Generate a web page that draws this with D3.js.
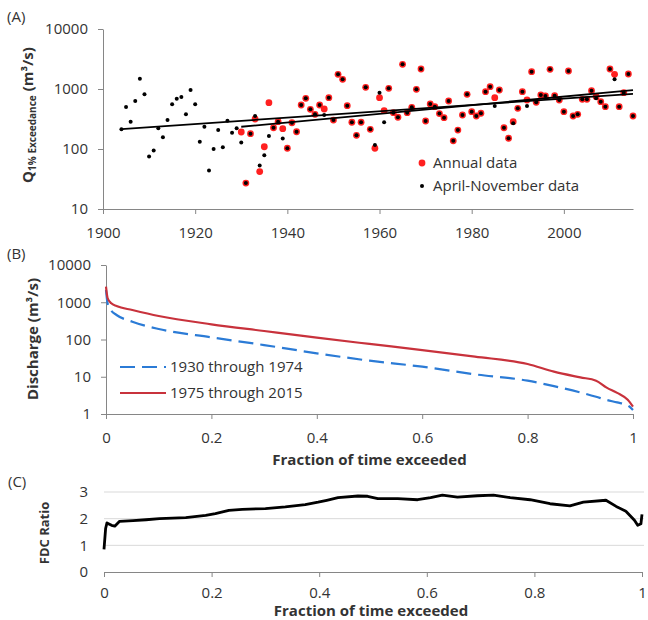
<!DOCTYPE html>
<html>
<head>
<meta charset="utf-8">
<script src="https://cdn.jsdelivr.net/npm/d3@7"></script>
<style>
  body { margin: 0; background: #fff; }
  svg text { font-family: "Open Sans", sans-serif; fill: #333; }
</style>
</head>
<body>
<svg id="chart" width="648" height="620"></svg>
<script>
// ---- panel A: Q1% exceedance by year ----
// [year, m3/s]
const aprNovData = [
  [1904, 213], [1905, 501], [1906, 285], [1907, 631], [1908, 1486], [1909, 816],
  [1910, 75], [1911, 94], [1912, 221], [1913, 157], [1914, 304], [1915, 556],
  [1916, 689], [1917, 735], [1918, 379], [1919, 962], [1920, 556], [1921, 132],
  [1922, 235], [1923, 44], [1924, 100], [1925, 207], [1926, 107], [1927, 296],
  [1928, 187], [1929, 221], [1930, 128], [1931, 27], [1932, 180], [1933, 355],
  [1934, 53], [1935, 79], [1936, 165], [1937, 226], [1938, 285], [1939, 150],
  [1940, 103], [1941, 274], [1942, 194], [1943, 541], [1944, 700], [1945, 459],
  [1946, 379], [1947, 541], [1948, 369], [1949, 716], [1950, 304], [1951, 1758],
  [1952, 1452], [1953, 527], [1954, 279], [1955, 169], [1956, 279], [1957, 1067],
  [1958, 213], [1959, 117], [1960, 868], [1961, 279], [1962, 1028], [1963, 403],
  [1964, 338], [1965, 2582], [1966, 403], [1967, 495], [1968, 989], [1969, 2154],
  [1970, 293], [1971, 562], [1972, 507], [1973, 390], [1974, 333], [1975, 631],
  [1976, 137], [1977, 207], [1978, 369], [1979, 816], [1980, 419], [1981, 355],
  [1982, 394], [1983, 902], [1984, 1092], [1985, 520], [1986, 962], [1987, 226],
  [1988, 151], [1989, 268], [1990, 477], [1991, 902], [1992, 520], [1993, 1941],
  [1994, 600], [1995, 794], [1996, 764], [1997, 2128], [1998, 773], [1999, 656],
  [2000, 419], [2001, 1995], [2002, 355], [2003, 379], [2004, 673], [2005, 673],
  [2006, 937], [2007, 700], [2008, 614], [2009, 507], [2010, 2154], [2011, 1452],
  [2012, 507], [2013, 868], [2014, 1778], [2015, 355]
];
const annualData = [
  [1930, 192], [1931, 27], [1932, 180], [1933, 316], [1934, 42], [1935, 109],
  [1936, 591], [1937, 226], [1938, 285], [1939, 218], [1940, 103], [1941, 274],
  [1942, 194], [1943, 541], [1944, 700], [1945, 459], [1946, 379], [1947, 541],
  [1948, 464], [1949, 716], [1950, 304], [1951, 1758], [1952, 1452], [1953, 527],
  [1954, 279], [1955, 169], [1956, 279], [1957, 1067], [1958, 213], [1959, 103],
  [1960, 716], [1961, 435], [1962, 1028], [1963, 403], [1964, 338], [1965, 2582],
  [1966, 403], [1967, 495], [1968, 989], [1969, 2154], [1970, 293], [1971, 562],
  [1972, 507], [1973, 390], [1974, 333], [1975, 631], [1976, 137], [1977, 207],
  [1978, 369], [1979, 816], [1980, 419], [1981, 355], [1982, 394], [1983, 902],
  [1984, 1092], [1985, 716], [1986, 962], [1987, 226], [1988, 151], [1989, 285],
  [1990, 477], [1991, 902], [1992, 656], [1993, 1941], [1994, 600], [1995, 794],
  [1996, 764], [1997, 2128], [1998, 773], [1999, 656], [2000, 419], [2001, 1995],
  [2002, 355], [2003, 379], [2004, 673], [2005, 673], [2006, 937], [2007, 745],
  [2008, 614], [2009, 507], [2010, 2154], [2011, 1758], [2012, 507], [2013, 868],
  [2014, 1778], [2015, 355]
];
// trend line end points
const trendAprNov = [[1904, 215], [2015, 830]];
const trendAnnual = [[1930, 235], [2015, 960]];
const yearTicks = [1900, 1920, 1940, 1960, 1980, 2000];
const logTicksA = [10, 100, 1000, 10000];

// ---- panel B: flow duration curves ----
const fdcFraction = [0, 0.003, 0.01, 0.02, 0.05, 0.1, 0.2, 0.3, 0.4, 0.5, 0.6, 0.7, 0.8, 0.85, 0.9, 0.93, 0.95, 0.97, 0.99, 1];
const fdc1930_1974 = [2140, 935, 594, 455, 300, 191, 114, 71, 42.6, 27, 18.6, 11.6, 7.85, 5.6, 3.8, 2.9, 2.38, 2.05, 1.7, 1.28];
const fdc1975_2015 = [2614, 1300, 935, 790, 620, 428, 256, 169, 112, 76, 52, 34.6, 22, 13.7, 9.6, 7.85, 5.1, 3.7, 2.4, 1.57];
const logTicksB = [1, 10, 100, 1000, 10000];
const fracTicks = [0, 0.2, 0.4, 0.6, 0.8, 1];

// ---- panel C: ratio of the two curves ----
const ratioFraction = [0, 0.003, 0.0055, 0.014, 0.02, 0.029, 0.054, 0.078, 0.103, 0.152, 0.189, 0.207, 0.232, 0.257, 0.3, 0.337, 0.374, 0.398, 0.414, 0.435, 0.472, 0.49, 0.509, 0.546, 0.583, 0.607, 0.629, 0.657, 0.694, 0.724, 0.755, 0.792, 0.829, 0.866, 0.891, 0.933, 0.952, 0.97, 0.986, 0.992, 0.998, 1];
const ratioValue = [0.85, 1.63, 1.84, 1.75, 1.72, 1.9, 1.93, 1.96, 2.0, 2.04, 2.12, 2.19, 2.31, 2.35, 2.38, 2.44, 2.53, 2.62, 2.69, 2.79, 2.85, 2.84, 2.75, 2.75, 2.71, 2.79, 2.88, 2.81, 2.86, 2.88, 2.79, 2.71, 2.56, 2.48, 2.62, 2.69, 2.46, 2.28, 1.94, 1.75, 1.81, 2.16];
const ratioTicks = [0, 1, 2, 3];

const svg = d3.select("#chart");
const axisColor = "#868686";

function styleAxis(g) {
  g.select(".domain").attr("stroke", axisColor);
  g.selectAll(".tick line").attr("stroke", axisColor);
  g.selectAll(".tick text").attr("font-size", 15).attr("fill", "#333");
}

// ================= (A) =================
const xA = d3.scaleLinear().domain([1900, 2015]).range([103, 633]);
const yA = d3.scaleLog().domain([10, 10000]).range([209, 29]);

svg.append("g")
  .attr("transform", `translate(0,${yA(10)})`)
  .call(d3.axisBottom(xA).tickValues(yearTicks).tickFormat(d3.format("d"))
    .tickSize(5).tickSizeOuter(0).tickPadding(13))
  .call(styleAxis);

svg.append("g")
  .attr("transform", `translate(${xA(1900)},0)`)
  .call(d3.axisLeft(yA).tickValues(logTicksA).tickFormat(d3.format("d"))
    .tickSize(5).tickSizeOuter(0).tickPadding(10))
  .call(styleAxis);

svg.append("g").selectAll("circle")
  .data(annualData).join("circle")
  .attr("cx", d => xA(d[0]))
  .attr("cy", d => yA(d[1]))
  .attr("r", 3.4)
  .attr("fill", "#ff2020");

svg.append("g").selectAll("circle")
  .data(aprNovData).join("circle")
  .attr("cx", d => xA(d[0]))
  .attr("cy", d => yA(d[1]))
  .attr("r", 2)
  .attr("fill", "#000");

const lineA = d3.line().x(d => xA(d[0])).y(d => yA(d[1]));
[trendAprNov, trendAnnual].forEach(t => {
  svg.append("path")
    .attr("d", lineA(t))
    .attr("fill", "none")
    .attr("stroke", "#000")
    .attr("stroke-width", 1.8);
});

// legend A
svg.append("circle").attr("cx", 422).attr("cy", 163).attr("r", 3.4).attr("fill", "#ff2020");
svg.append("circle").attr("cx", 422).attr("cy", 186).attr("r", 2).attr("fill", "#000");
svg.append("text").attr("x", 433).attr("y", 168).attr("font-size", 15).text("Annual data");
svg.append("text").attr("x", 433).attr("y", 191).attr("font-size", 15).text("April-November data");

// y label A
const yLabA = svg.append("text")
  .attr("transform", "translate(33,115) rotate(-90)")
  .attr("text-anchor", "middle")
  .attr("font-weight", "bold");
yLabA.append("tspan").attr("font-size", 15).text("Q");
yLabA.append("tspan").attr("font-size", 10).attr("dy", 3).text("1% Exceedance");
yLabA.append("tspan").attr("font-size", 15).attr("dy", -3).text(" (m³/s)");

svg.append("text").attr("x", 7).attr("y", 22).attr("font-size", 15).text("(A)");

// ================= (B) =================
const xB = d3.scaleLinear().domain([0, 1]).range([106, 633]);
const yB = d3.scaleLog().domain([1, 10000]).range([414, 265]);

svg.append("g")
  .attr("transform", `translate(0,${yB(1)})`)
  .call(d3.axisBottom(xB).tickValues(fracTicks).tickFormat(d3.format("~g"))
    .tickSize(5).tickSizeOuter(0).tickPadding(13))
  .call(styleAxis);

svg.append("g")
  .attr("transform", `translate(${xB(0)},0)`)
  .call(d3.axisLeft(yB).tickValues(logTicksB).tickFormat(d3.format("d"))
    .tickSize(5).tickSizeOuter(0).tickPadding(10))
  .call(styleAxis);

const lineB = d3.line()
  .x((d, i) => xB(fdcFraction[i]))
  .y(d => yB(d))
  .curve(d3.curveMonotoneX);

svg.append("path")
  .attr("d", lineB(fdc1930_1974))
  .attr("fill", "none")
  .attr("stroke", "#2b7bd6")
  .attr("stroke-width", 2.2)
  .attr("stroke-dasharray", "15,7");

svg.append("path")
  .attr("d", lineB(fdc1975_2015))
  .attr("fill", "none")
  .attr("stroke", "#c8323c")
  .attr("stroke-width", 2.2);

// legend B
svg.append("line").attr("x1", 120).attr("x2", 166).attr("y1", 367).attr("y2", 367)
  .attr("stroke", "#2b7bd6").attr("stroke-width", 2.2).attr("stroke-dasharray", "15,7");
svg.append("line").attr("x1", 120).attr("x2", 166).attr("y1", 393).attr("y2", 393)
  .attr("stroke", "#c8323c").attr("stroke-width", 2.2);
svg.append("text").attr("x", 170).attr("y", 372).attr("font-size", 15).text("1930 through 1974");
svg.append("text").attr("x", 170).attr("y", 398).attr("font-size", 15).text("1975 through 2015");

svg.append("text")
  .attr("transform", "translate(38,339) rotate(-90)")
  .attr("text-anchor", "middle")
  .attr("font-weight", "bold")
  .attr("font-size", 15)
  .text("Discharge (m³/s)");

svg.append("text")
  .attr("x", (xB(0) + xB(1)) / 2).attr("y", 465)
  .attr("text-anchor", "middle")
  .attr("font-weight", "bold")
  .attr("font-size", 15)
  .text("Fraction of time exceeded");

svg.append("text").attr("x", 7).attr("y", 259).attr("font-size", 15).text("(B)");

// ================= (C) =================
const xC = d3.scaleLinear().domain([0, 1]).range([104, 642]);
const yC = d3.scaleLinear().domain([0, 3]).range([572, 492]);

svg.append("g").selectAll("line")
  .data(ratioTicks.filter(d => d > 0)).join("line")
  .attr("x1", xC(0)).attr("x2", xC(1) + 2)
  .attr("y1", d => yC(d)).attr("y2", d => yC(d))
  .attr("stroke", "#d9d9d9")
  .attr("stroke-width", 1);

svg.append("g")
  .attr("transform", `translate(0,${yC(0)})`)
  .call(d3.axisBottom(xC).tickValues(fracTicks).tickFormat(d3.format("~g"))
    .tickSize(5).tickSizeOuter(0).tickPadding(10))
  .call(styleAxis);

svg.append("g")
  .attr("transform", `translate(${xC(0)},0)`)
  .call(d3.axisLeft(yC).tickValues(ratioTicks).tickFormat(d3.format("d"))
    .tickSize(0).tickPadding(16))
  .call(styleAxis)
  .call(g => g.select(".domain").remove());

const lineC = d3.line()
  .x((d, i) => xC(ratioFraction[i]))
  .y(d => yC(d));

svg.append("path")
  .attr("d", lineC(ratioValue))
  .attr("fill", "none")
  .attr("stroke", "#000")
  .attr("stroke-width", 2.8)
  .attr("stroke-linejoin", "round");

svg.append("text")
  .attr("transform", "translate(49,533) rotate(-90)")
  .attr("text-anchor", "middle")
  .attr("font-weight", "bold")
  .attr("font-size", 13)
  .text("FDC Ratio");

svg.append("text")
  .attr("x", (xC(0) + xC(1)) / 2 - 2).attr("y", 616)
  .attr("text-anchor", "middle")
  .attr("font-weight", "bold")
  .attr("font-size", 15)
  .text("Fraction of time exceeded");

svg.append("text").attr("x", 8).attr("y", 487).attr("font-size", 15).text("(C)");
</script>
</body>
</html>
